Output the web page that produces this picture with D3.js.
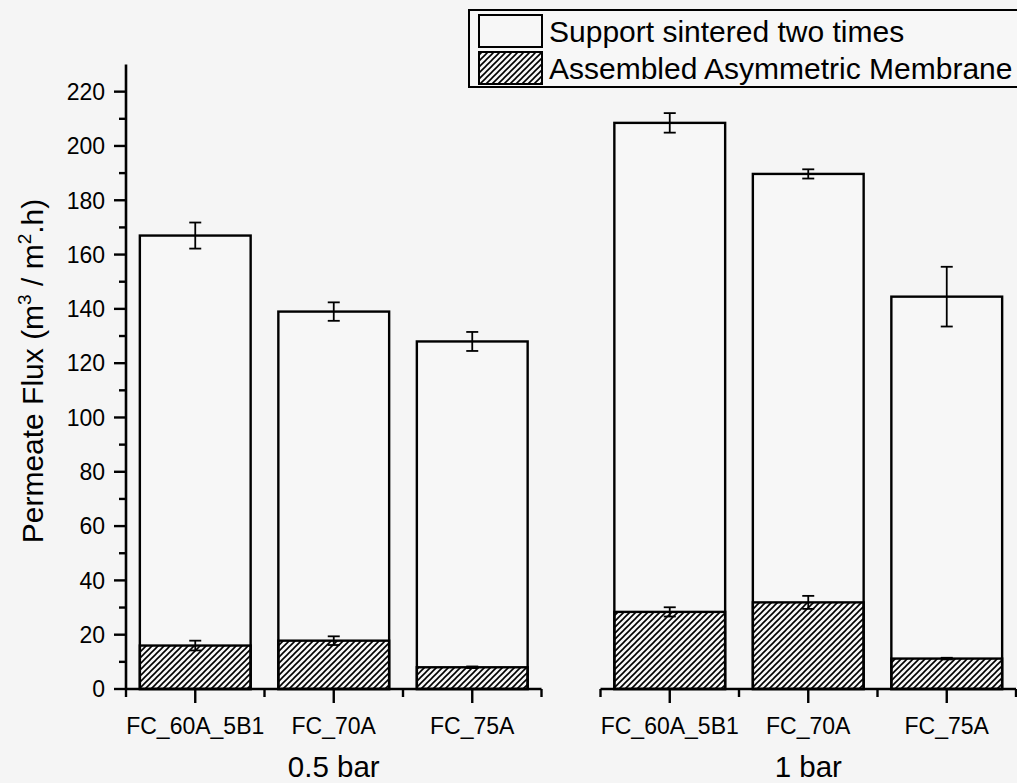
<!DOCTYPE html>
<html>
<head>
<meta charset="utf-8">
<script src="https://cdn.jsdelivr.net/npm/d3@7"></script>
<style>
  html, body { margin: 0; padding: 0; background: #f5f5f5; }
  svg { display: block; font-family: "Liberation Sans", Arial, sans-serif; }
</style>
</head>
<body>
<div id="chart"></div>
<script>
// Membrane samples and the two operating pressures
const categories = ["FC_60A_5B1", "FC_70A", "FC_75A"];
const pressures = ["0.5 bar", "1 bar"];

// Permeate flux (m3 / m2.h): support sintered two times
const supportFlux = [[167, 139, 128], [208.5, 189.7, 144.5]];
const supportErr  = [[4.8, 3.4, 3.5], [3.6, 1.7, 11]];

// Permeate flux (m3 / m2.h): assembled asymmetric membrane
const membraneFlux = [[16, 17.8, 8], [28.4, 31.9, 11.2]];
const membraneErr  = [[1.8, 1.6, 0.3], [1.7, 2.4, 0.3]];

const yTicks = [0, 20, 40, 60, 80, 100, 120, 140, 160, 180, 200, 220];
const legendLabels = ["Support sintered two times", "Assembled Asymmetric Membrane"];

const W = 1017, H = 783;
const svg = d3.select("#chart").append("svg").attr("width", W).attr("height", H);
svg.append("rect").attr("width", W).attr("height", H).attr("fill", "#f5f5f5");

const defs = svg.append("defs");
defs.append("pattern")
  .attr("id", "hatch")
  .attr("patternUnits", "userSpaceOnUse")
  .attr("width", 6).attr("height", 6)
  .append("path")
  .attr("d", "M-1,1 l2,-2 M0,6 l6,-6 M5,7 l2,-2")
  .attr("stroke", "#000").attr("stroke-width", 1.6);

const y = d3.scaleLinear().domain([0, 230]).range([689, 64.5]);

// Two panels sharing the same y scale
const panelRanges = [[126, 541.5], [600.5, 1016]];
const xs = panelRanges.map(r => d3.scaleBand().domain(categories).range(r).paddingInner(0.2).paddingOuter(0.1));

// Y axis with minor ticks
const yAxisG = svg.append("g").attr("transform", "translate(126,0)");
yAxisG.append("line").attr("x1", 0).attr("x2", 0).attr("y1", y(230)).attr("y2", y(0))
  .attr("stroke", "#000").attr("stroke-width", 2.6);
const minor = d3.range(10, 230, 20);
yAxisG.selectAll(".minor").data(minor).join("line")
  .attr("x1", -7).attr("x2", 0).attr("y1", d => y(d)).attr("y2", d => y(d))
  .attr("stroke", "#000").attr("stroke-width", 2.4);
yAxisG.selectAll(".major").data(yTicks).join("line")
  .attr("x1", -12).attr("x2", 0).attr("y1", d => y(d)).attr("y2", d => y(d))
  .attr("stroke", "#000").attr("stroke-width", 2.4);
yAxisG.selectAll(".lbl").data(yTicks).join("text")
  .attr("x", -21).attr("y", d => y(d)).attr("dy", "0.36em")
  .attr("text-anchor", "end").attr("font-size", 23).attr("fill", "#000")
  .text(d => d);

// Y axis title
const yt = svg.append("text")
  .attr("transform", "translate(43,371) rotate(-90)")
  .attr("text-anchor", "middle").attr("font-size", 30).attr("fill", "#000");
yt.append("tspan").text("Permeate Flux (m");
yt.append("tspan").attr("font-size", 19).attr("dy", -12).text("3");
yt.append("tspan").attr("dy", 12).text(" / m");
yt.append("tspan").attr("font-size", 19).attr("dy", -12).text("2");
yt.append("tspan").attr("dy", 12).text(".h)");

pressures.forEach((p, pi) => {
  const x = xs[pi];
  const step = x.step();
  const g = svg.append("g");

  // Support bars (full flux)
  g.selectAll(".sup").data(categories).join("rect")
    .attr("x", d => x(d)).attr("width", x.bandwidth())
    .attr("y", (d, i) => y(supportFlux[pi][i]))
    .attr("height", (d, i) => y(0) - y(supportFlux[pi][i]))
    .attr("fill", "#f7f7f7").attr("stroke", "#000").attr("stroke-width", 2.4);

  // Assembled membrane bars (hatched)
  g.selectAll(".mem").data(categories).join("rect")
    .attr("x", d => x(d)).attr("width", x.bandwidth())
    .attr("y", (d, i) => y(membraneFlux[pi][i]))
    .attr("height", (d, i) => y(0) - y(membraneFlux[pi][i]))
    .attr("fill", "url(#hatch)").attr("stroke", "#000").attr("stroke-width", 2.4);

  // Error bars
  const errSets = [[supportFlux[pi], supportErr[pi]], [membraneFlux[pi], membraneErr[pi]]];
  errSets.forEach(([vals, errs]) => {
    categories.forEach((c, i) => {
      const cx = x(c) + x.bandwidth() / 2;
      const lo = y(vals[i] - errs[i]), hi = y(vals[i] + errs[i]);
      g.append("line").attr("x1", cx).attr("x2", cx).attr("y1", lo).attr("y2", hi)
        .attr("stroke", "#000").attr("stroke-width", 1.8);
      [lo, hi].forEach(yy => g.append("line")
        .attr("x1", cx - 6).attr("x2", cx + 6).attr("y1", yy).attr("y2", yy)
        .attr("stroke", "#000").attr("stroke-width", 1.8));
    });
  });

  // X axis baseline with category ticks and band-edge ticks
  const r = x.range();
  g.append("line").attr("x1", r[0]).attr("x2", r[1]).attr("y1", y(0)).attr("y2", y(0))
    .attr("stroke", "#000").attr("stroke-width", 2.6);
  const edges = categories.map(c => x(c) - step * x.paddingInner() / 2).concat([r[1]]);
  g.selectAll(".edge").data(edges).join("line")
    .attr("x1", d => d).attr("x2", d => d).attr("y1", y(0)).attr("y2", y(0) + 8)
    .attr("stroke", "#000").attr("stroke-width", 2.4);
  g.selectAll(".ctick").data(categories).join("line")
    .attr("x1", d => x(d) + x.bandwidth() / 2).attr("x2", d => x(d) + x.bandwidth() / 2)
    .attr("y1", y(0)).attr("y2", y(0) + 14)
    .attr("stroke", "#000").attr("stroke-width", 2.4);
  g.selectAll(".clbl").data(categories).join("text")
    .attr("x", d => x(d) + x.bandwidth() / 2).attr("y", 734)
    .attr("text-anchor", "middle").attr("font-size", 23).attr("fill", "#000")
    .text(d => d);

  // Pressure label under the middle category
  g.append("text")
    .attr("x", x(categories[1]) + x.bandwidth() / 2).attr("y", 777)
    .attr("text-anchor", "middle").attr("font-size", 29.5).attr("fill", "#000")
    .text(p);
});

// Legend
const lg = svg.append("g");
lg.append("rect").attr("x", 469).attr("y", 10).attr("width", 600).attr("height", 77)
  .attr("fill", "#f7f7f7").attr("stroke", "#000").attr("stroke-width", 2);
const swFills = ["#f7f7f7", "url(#hatch)"];
legendLabels.forEach((t, i) => {
  lg.append("rect").attr("x", 479).attr("y", 15 + i * 37).attr("width", 63).attr("height", 32)
    .attr("fill", swFills[i]).attr("stroke", "#000").attr("stroke-width", 2);
  lg.append("text").attr("x", 549).attr("y", 42 + i * 37)
    .attr("font-size", 30).attr("fill", "#000").text(t);
});
</script>
</body>
</html>
